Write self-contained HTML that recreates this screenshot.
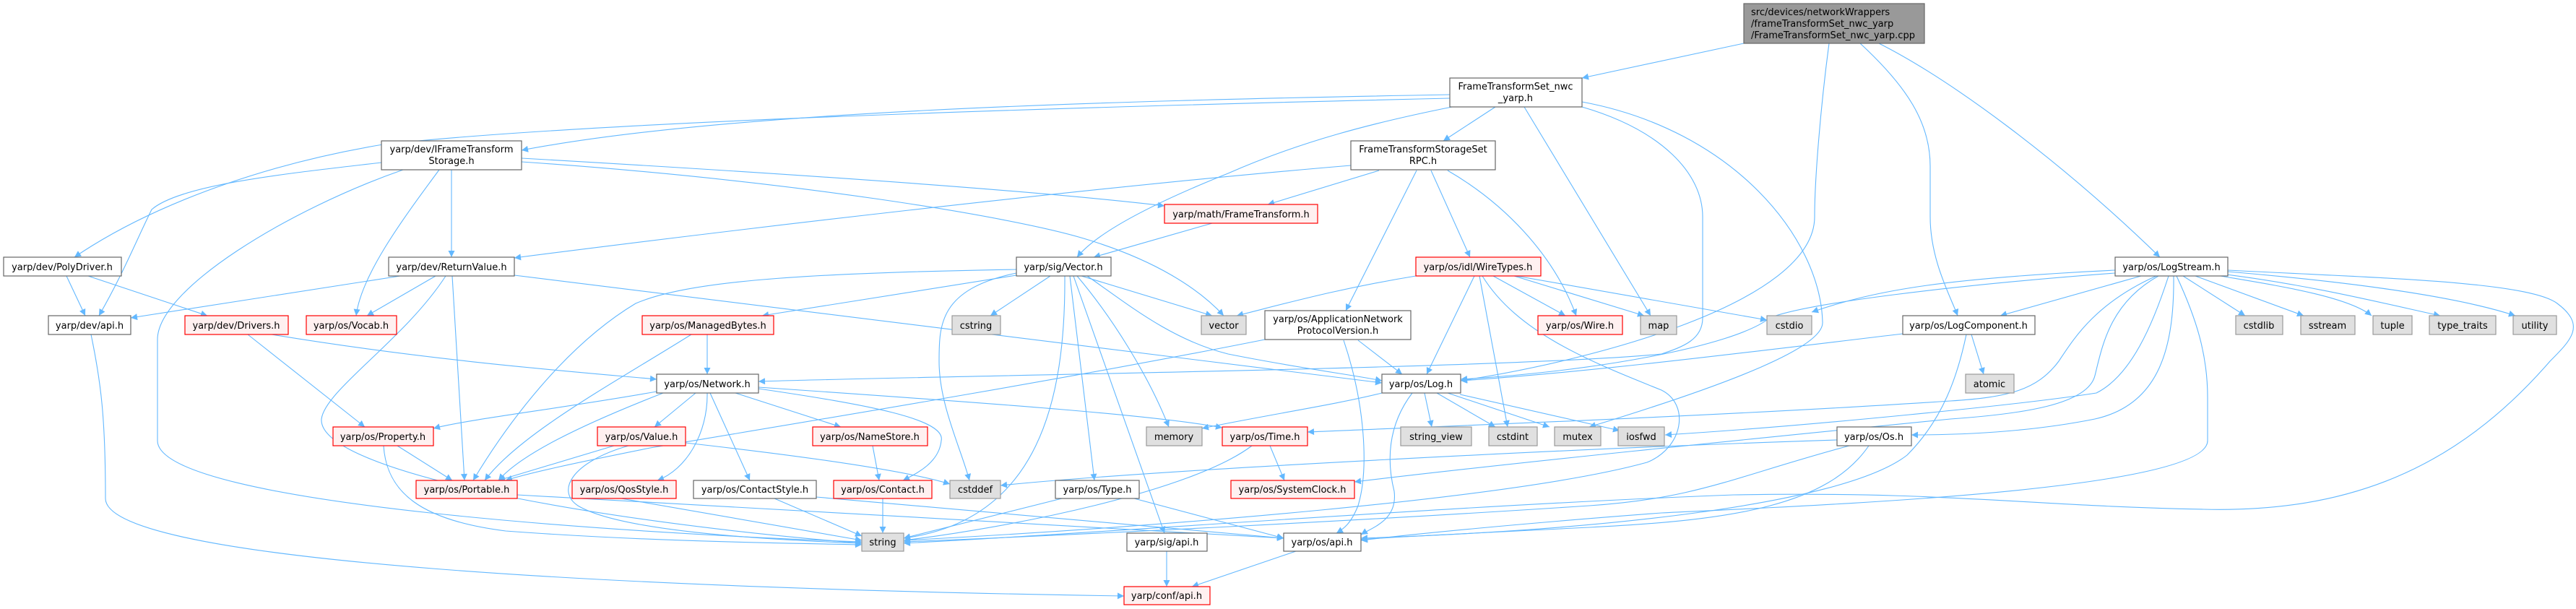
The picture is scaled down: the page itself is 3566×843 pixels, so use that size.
<!DOCTYPE html>
<html><head><meta charset="utf-8"><style>
html,body{margin:0;padding:0;background:#fff;}
svg{display:block;}
text{font-family:"DejaVu Sans","Liberation Sans",sans-serif;font-size:13px;fill:#000;}
.e{fill:none;stroke:#63b8ff;stroke-width:1.1;marker-end:url(#a);}
.w{fill:#fff;stroke:#666;stroke-width:1.2;}
.r{fill:#fff0f0;stroke:#ff0000;stroke-width:1.2;}
.g{fill:#e0e0e0;stroke:#999;stroke-width:1.2;}
.s{fill:#999;stroke:#666;stroke-width:1.2;}
</style></head><body>
<svg width="3566" height="843" viewBox="0 0 3566 843" xmlns="http://www.w3.org/2000/svg">
<defs><marker id="a" viewBox="0 0 10 10" refX="10" refY="5" markerWidth="11" markerHeight="9" markerUnits="userSpaceOnUse" orient="auto"><path d="M0,0 L10,5 L0,10 z" fill="#63b8ff"/></marker></defs>
<g>
<!-- src -->
<path class="e" d="M2414,60 L2190,108"/>
<path class="e" d="M2532,60 C2520,150 2512,250 2512,300 C2512,420 2200,500 2022,527"/>
<path class="e" d="M2575,60 C2640,120 2672,170 2672,230 L2672,300 C2672,360 2700,410 2710,437"/>
<path class="e" d="M2601,60 C2700,110 2850,220 2990,356"/>
<!-- FrameTransformSet_nwc_yarp -->
<path class="e" d="M2007,131 C1500,140 1000,155 722,208"/>
<path class="e" d="M2007,136 C1400,150 800,170 530,200 C350,230 200,290 103,356"/>
<path class="e" d="M2010,148 C1900,170 1800,196 1700,240 C1600,280 1520,320 1491,356"/>
<path class="e" d="M2070,148 L1998,195"/>
<path class="e" d="M2110,148 L2285,437"/>
<path class="e" d="M2190,148 C2300,180 2357,240 2357,300 L2357,440 C2357,470 2330,480 2300,490 C2100,510 1300,520 1050,528"/>
<path class="e" d="M2190,141 C2400,180 2520,330 2523,446 C2525,480 2400,530 2200,591"/>
<!-- IFrameTransformStorage -->
<path class="e" d="M625,235 L625,356"/>
<path class="e" d="M608,235 C560,300 500,380 493,437"/>
<path class="e" d="M528,225 C400,240 250,255 210,290 C190,330 170,380 137,437"/>
<path class="e" d="M558,235 C400,290 218,400 218,470 L218,610 C218,700 900,740 1193,750"/>
<path class="e" d="M722,219 C1000,235 1400,260 1612,285"/>
<path class="e" d="M722,224 C1100,250 1400,300 1500,330 C1600,360 1660,400 1694,437"/>
<!-- RPC -->
<path class="e" d="M1870,229 C1500,260 1000,320 712,357"/>
<path class="e" d="M1909,236 L1755,283"/>
<path class="e" d="M1961,236 L1863,430"/>
<path class="e" d="M1981,236 L2035,356"/>
<path class="e" d="M2004,236 C2080,280 2150,350 2182,437"/>
<path class="e" d="M1678,309 L1514,356"/>
<!-- ReturnValue -->
<path class="e" d="M554,382 L181,440"/>
<path class="e" d="M603,382 L508,437"/>
<path class="e" d="M626,382 L643,665"/>
<path class="e" d="M617,382 C560,470 450,540 445,580 C440,650 800,720 1193,752"/>
<path class="e" d="M712,381 C1000,420 1400,470 1913,530"/>
<!-- PolyDriver -->
<path class="e" d="M92,382 L118,437"/>
<path class="e" d="M122,382 L287,437"/>
<path class="e" d="M126,463 C140,530 146,580 146,690 C146,780 900,815 1556,825"/>
<path class="e" d="M343,463 L505,591"/>
<path class="e" d="M376,463 C600,500 800,515 909,525"/>
<!-- ManagedBytes -->
<path class="e" d="M979,463 L979,518"/>
<path class="e" d="M957,463 C850,530 720,600 671,665"/>
<!-- Vector -->
<path class="e" d="M1407,381 L1055,437"/>
<path class="e" d="M1407,373 C1100,378 950,390 880,420 C780,480 700,590 655,665"/>
<path class="e" d="M1454,382 L1371,437"/>
<path class="e" d="M1407,378 C1300,400 1300,450 1300,500 C1300,560 1330,620 1342,665"/>
<path class="e" d="M1474,382 C1475,550 1440,720 1251,745"/>
<path class="e" d="M1481,382 L1515,665"/>
<path class="e" d="M1486,382 L1612,738"/>
<path class="e" d="M1491,382 C1540,440 1590,520 1618,591"/>
<path class="e" d="M1497,382 L1678,437"/>
<path class="e" d="M1505,382 C1560,420 1620,470 1700,490 C1800,510 1880,520 1913,527"/>
<!-- WireTypes -->
<path class="e" d="M1960,382 C1850,400 1780,420 1712,437"/>
<path class="e" d="M2041,382 L1975,518"/>
<path class="e" d="M2048,382 L2087,591"/>
<path class="e" d="M2052,382 C2100,460 2200,500 2300,540 C2340,560 2330,620 2280,640 C2100,690 1600,730 1251,748"/>
<path class="e" d="M2067,382 L2167,437"/>
<path class="e" d="M2096,382 L2276,437"/>
<path class="e" d="M2099,382 L2446,443"/>
<!-- AppNetProto -->
<path class="e" d="M1880,471 L1941,518"/>
<path class="e" d="M1860,471 C1890,560 1895,650 1880,700 C1870,725 1860,732 1850,738"/>
<path class="e" d="M1751,470 C1500,520 1200,570 900,620 C800,640 730,655 700,665"/>
<!-- Log -->
<path class="e" d="M1913,544 C1850,560 1750,575 1664,593"/>
<path class="e" d="M1972,544 L1982,591"/>
<path class="e" d="M1989,544 L2070,591"/>
<path class="e" d="M2004,544 L2145,591"/>
<path class="e" d="M2021,546 L2242,596"/>
<path class="e" d="M1955,544 C1920,590 1920,640 1930,680 C1935,720 1900,730 1884,740"/>
<!-- Network -->
<path class="e" d="M909,542 C780,565 650,580 600,593"/>
<path class="e" d="M963,544 L906,591"/>
<path class="e" d="M918,544 C800,590 720,630 690,665"/>
<path class="e" d="M979,544 C980,600 950,650 910,665"/>
<path class="e" d="M983,544 L1038,665"/>
<path class="e" d="M1018,544 L1164,591"/>
<path class="e" d="M1050,538 C1200,560 1310,580 1303,610 C1300,640 1270,655 1250,665"/>
<path class="e" d="M1050,536 C1400,560 1600,575 1692,592"/>
<!-- Value -->
<path class="e" d="M850,617 L690,665"/>
<path class="e" d="M870,617 C790,640 770,680 800,700 C850,730 1000,745 1193,752"/>
<path class="e" d="M949,613 C1100,630 1250,650 1315,670"/>
<!-- Property -->
<path class="e" d="M550,617 L626,665"/>
<path class="e" d="M531,617 C535,680 580,720 700,735 C900,750 1100,752 1193,754"/>
<!-- Portable etc -->
<path class="e" d="M716,685 C1000,700 1500,730 1777,745"/>
<path class="e" d="M860,690 L1193,748"/>
<path class="e" d="M1072,690 L1193,742"/>
<path class="e" d="M1130,688 L1777,745"/>
<path class="e" d="M1222,690 L1222,738"/>
<path class="e" d="M1208,617 L1217,665"/>
<path class="e" d="M1470,690 L1251,745"/>
<path class="e" d="M1570,690 L1777,745"/>
<path class="e" d="M1733,617 C1650,680 1400,730 1251,748"/>
<path class="e" d="M1758,617 L1778,665"/>
<path class="e" d="M1615,763 L1615,812"/>
<path class="e" d="M1794,763 L1650,812"/>
<!-- Os -->
<path class="e" d="M2543,609 C2200,620 1600,650 1385,672"/>
<path class="e" d="M2560,617 C2400,660 2350,690 2200,700 C1900,720 1500,740 1251,750"/>
<path class="e" d="M2587,617 C2530,700 2400,720 2200,730 C2000,740 1900,745 1884,747"/>
<!-- LogComponent -->
<path class="e" d="M2634,462 C2400,490 2200,515 2022,527"/>
<path class="e" d="M2729,463 L2746,518"/>
<path class="e" d="M2722,463 C2710,520 2690,580 2640,630 C2550,700 2200,735 1884,745"/>
<!-- LogStream -->
<path class="e" d="M2964,382 L2769,437"/>
<path class="e" d="M2928,374 C2700,385 2600,400 2508,432"/>
<path class="e" d="M2928,378 C2700,395 2500,420 2450,440 C2400,480 2200,515 2022,525"/>
<path class="e" d="M2985,382 C2900,420 2870,470 2850,500 C2820,540 2780,550 2700,555 C2400,575 2000,590 1810,598"/>
<path class="e" d="M2988,382 C2920,420 2910,480 2900,520 C2890,560 2800,573 2700,580 C2400,610 2100,640 1875,667"/>
<path class="e" d="M3002,382 C2980,450 2950,520 2902,544 C2800,560 2500,590 2305,602"/>
<path class="e" d="M3009,382 C3010,480 2990,560 2900,580 C2800,600 2700,602 2646,602"/>
<path class="e" d="M3013,382 C3040,440 3056,490 3056,550 L3056,610 C3056,680 2500,700 2300,710 C2100,725 1950,740 1884,748"/>
<path class="e" d="M3084,374 C3300,385 3500,390 3540,420 C3580,450 3560,470 3530,500 C3400,650 3250,710 3050,705 C2800,700 2700,680 2400,685 C2000,700 1500,740 1251,752"/>
<path class="e" d="M3022,382 L3108,437"/>
<path class="e" d="M3039,382 L3189,437"/>
<path class="e" d="M3074,382 C3150,395 3250,410 3283,437"/>
<path class="e" d="M3082,380 C3200,395 3300,420 3378,437"/>
<path class="e" d="M3084,376 C3250,390 3400,410 3482,437"/>
</g>
<g text-anchor="middle">
<rect class="s" x="2414" y="5" width="250" height="55"/>
<text x="2424" y="21" text-anchor="start">src/devices/networkWrappers</text>
<text x="2424" y="37" text-anchor="start">/frameTransformSet_nwc_yarp</text>
<text x="2424" y="53" text-anchor="start">/FrameTransformSet_nwc_yarp.cpp</text>

<rect class="w" x="2007" y="108" width="183" height="40"/><text x="2098" y="124">FrameTransformSet_nwc</text><text x="2098" y="140">_yarp.h</text>
<rect class="w" x="528" y="195" width="194" height="40"/><text x="625" y="211">yarp/dev/IFrameTransform</text><text x="625" y="227">Storage.h</text>
<rect class="w" x="1870" y="195" width="200" height="40"/><text x="1970" y="211">FrameTransformStorageSet</text><text x="1970" y="227">RPC.h</text>
<rect class="r" x="1612" y="283" width="212" height="26"/><text x="1718" y="301">yarp/math/FrameTransform.h</text>

<rect class="w" x="5" y="356" width="163" height="26"/><text x="86" y="374">yarp/dev/PolyDriver.h</text>
<rect class="w" x="538" y="356" width="174" height="26"/><text x="625" y="374">yarp/dev/ReturnValue.h</text>
<rect class="w" x="1407" y="356" width="131" height="26"/><text x="1472" y="374">yarp/sig/Vector.h</text>
<rect class="r" x="1960" y="356" width="173" height="26"/><text x="2046" y="374">yarp/os/idl/WireTypes.h</text>
<rect class="w" x="2928" y="356" width="156" height="26"/><text x="3006" y="374">yarp/os/LogStream.h</text>

<rect class="w" x="67" y="437" width="114" height="26"/><text x="124" y="455">yarp/dev/api.h</text>
<rect class="r" x="256" y="437" width="143" height="26"/><text x="327" y="455">yarp/dev/Drivers.h</text>
<rect class="r" x="424" y="437" width="125" height="26"/><text x="486" y="455">yarp/os/Vocab.h</text>
<rect class="r" x="889" y="437" width="182" height="26"/><text x="980" y="455">yarp/os/ManagedBytes.h</text>
<rect class="g" x="1318" y="437" width="67" height="26"/><text x="1351" y="455">cstring</text>
<rect class="g" x="1663" y="437" width="62" height="26"/><text x="1694" y="455">vector</text>
<rect class="w" x="1751" y="430" width="202" height="40"/><text x="1852" y="446">yarp/os/ApplicationNetwork</text><text x="1852" y="462">ProtocolVersion.h</text>
<rect class="r" x="2129" y="437" width="117" height="26"/><text x="2187" y="455">yarp/os/Wire.h</text>
<rect class="g" x="2271" y="437" width="50" height="26"/><text x="2296" y="455">map</text>
<rect class="g" x="2446" y="437" width="62" height="26"/><text x="2477" y="455">cstdio</text>
<rect class="w" x="2634" y="437" width="183" height="26"/><text x="2725" y="455">yarp/os/LogComponent.h</text>
<rect class="g" x="3095" y="437" width="65" height="26"/><text x="3127" y="455">cstdlib</text>
<rect class="g" x="3185" y="437" width="75" height="26"/><text x="3222" y="455">sstream</text>
<rect class="g" x="3285" y="437" width="54" height="26"/><text x="3312" y="455">tuple</text>
<rect class="g" x="3363" y="437" width="92" height="26"/><text x="3409" y="455">type_traits</text>
<rect class="g" x="3479" y="437" width="60" height="26"/><text x="3509" y="455">utility</text>

<rect class="w" x="909" y="518" width="141" height="26"/><text x="979" y="536">yarp/os/Network.h</text>
<rect class="w" x="1913" y="518" width="109" height="26"/><text x="1967" y="536">yarp/os/Log.h</text>
<rect class="g" x="2721" y="518" width="67" height="26"/><text x="2754" y="536">atomic</text>

<rect class="r" x="461" y="591" width="139" height="26"/><text x="530" y="609">yarp/os/Property.h</text>
<rect class="r" x="827" y="591" width="122" height="26"/><text x="888" y="609">yarp/os/Value.h</text>
<rect class="r" x="1125" y="591" width="159" height="26"/><text x="1204" y="609">yarp/os/NameStore.h</text>
<rect class="g" x="1587" y="591" width="77" height="26"/><text x="1625" y="609">memory</text>
<rect class="r" x="1692" y="591" width="118" height="26"/><text x="1751" y="609">yarp/os/Time.h</text>
<rect class="g" x="1939" y="591" width="98" height="26"/><text x="1988" y="609">string_view</text>
<rect class="g" x="2061" y="591" width="67" height="26"/><text x="2094" y="609">cstdint</text>
<rect class="g" x="2152" y="591" width="64" height="26"/><text x="2184" y="609">mutex</text>
<rect class="g" x="2240" y="591" width="64" height="26"/><text x="2272" y="609">iosfwd</text>
<rect class="w" x="2543" y="591" width="103" height="26"/><text x="2594" y="609">yarp/os/Os.h</text>

<rect class="r" x="576" y="665" width="140" height="25"/><text x="646" y="682">yarp/os/Portable.h</text>
<rect class="r" x="792" y="665" width="144" height="25"/><text x="864" y="682">yarp/os/QosStyle.h</text>
<rect class="w" x="960" y="665" width="170" height="25"/><text x="1045" y="682">yarp/os/ContactStyle.h</text>
<rect class="r" x="1154" y="665" width="136" height="25"/><text x="1222" y="682">yarp/os/Contact.h</text>
<rect class="g" x="1315" y="665" width="70" height="25"/><text x="1350" y="682">cstddef</text>
<rect class="w" x="1461" y="665" width="116" height="25"/><text x="1519" y="682">yarp/os/Type.h</text>
<rect class="r" x="1704" y="665" width="171" height="25"/><text x="1789" y="682">yarp/os/SystemClock.h</text>

<rect class="g" x="1193" y="738" width="58" height="25"/><text x="1222" y="755">string</text>
<rect class="w" x="1560" y="738" width="111" height="25"/><text x="1615" y="755">yarp/sig/api.h</text>
<rect class="w" x="1777" y="738" width="107" height="25"/><text x="1830" y="755">yarp/os/api.h</text>
<rect class="r" x="1556" y="812" width="119" height="25"/><text x="1615" y="829">yarp/conf/api.h</text>
</g>
</svg>
</body></html>
